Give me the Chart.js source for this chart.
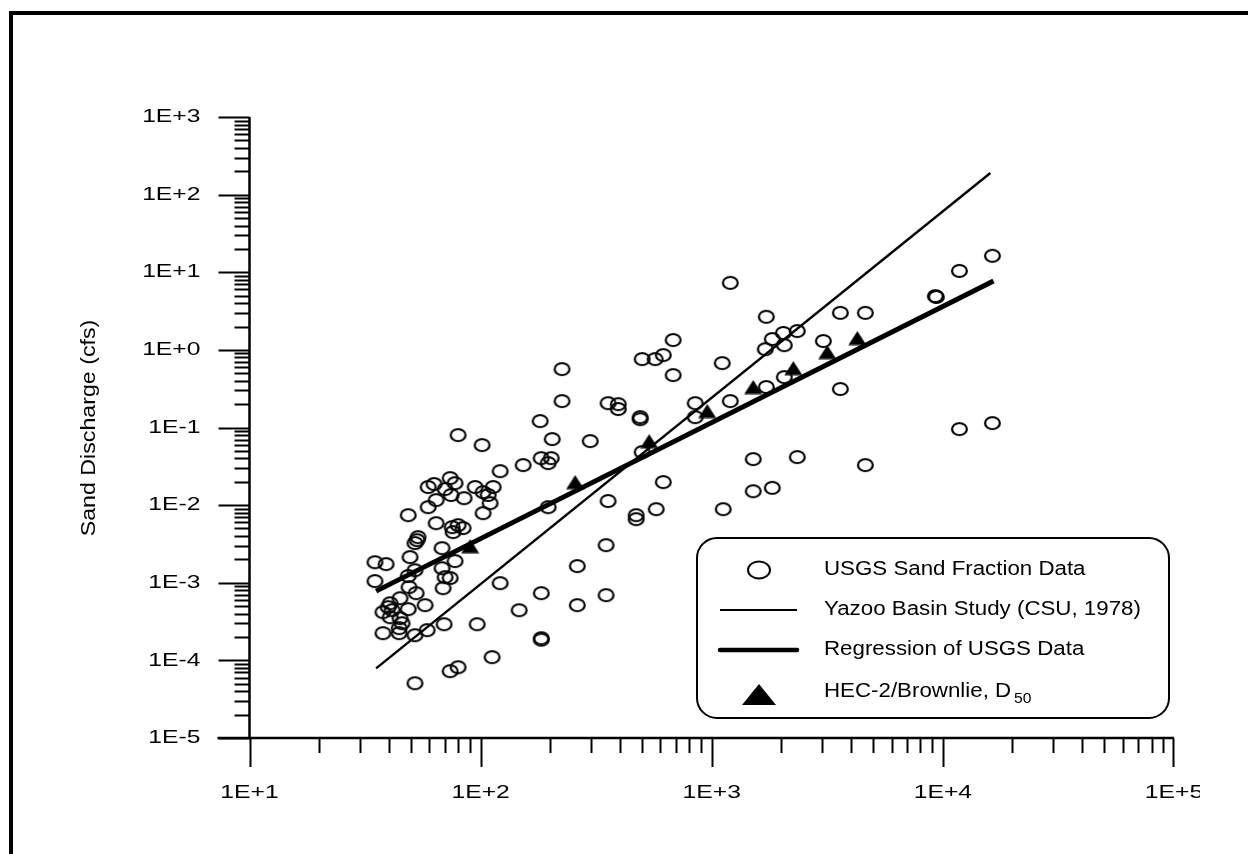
<!DOCTYPE html>
<html>
<head>
<meta charset="utf-8">
<title>Sand Discharge</title>
<script src="https://cdn.jsdelivr.net/npm/chart.js@4.4.1/dist/chart.umd.min.js"></script>
<style>
  html, body { margin: 0; padding: 0; background: #fff; }
  #wrap { width: 1248px; height: 854px; }
</style>
</head>
<body>
<div id="wrap"><canvas id="chart" width="1248" height="854"></canvas></div>
<script>
// USGS sand fraction samples: water discharge (x) vs sand discharge (y, cfs)
const usgsFlow = [79.9, 101.5, 121.5, 152.8, 181, 182.8, 202, 196, 225, 225, 204, 298,
    59.3, 62.9, 73.8, 77.5, 70.2, 74.5, 64.2, 59.3, 84.8, 94.7, 102.5, 113.3, 107.8, 109.9, 102.5,
    48.6, 64.2, 75.3, 79.9, 84.0, 76.0, 53.6, 53.1, 52.0, 68.1,
    34.9, 39.0, 49.5, 77.5, 34.9, 48.6, 52.0, 68.1, 70.2, 73.8, 68.8, 49.0, 52.6, 121.5,
    44.8, 40.6, 39.8, 41.4, 37.8, 48.6, 57.5, 44.8, 45.7, 44.4, 40.6, 37.8, 44.4, 52.0, 58.7, 69.5, 96.6, 146.8,
    112.1, 73.8, 79.9, 52.0,
    500, 569, 617, 681, 681, 356, 394, 394, 490, 490, 500, 617, 575, 356, 471, 471, 196, 349, 262, 183, 262, 349, 183, 183,
    848, 848, 1110, 1203, 1203, 1121, 1722, 1828, 2040, 2345, 1705, 2060, 3600, 4618, 3039, 9280, 9370, 11790, 16380,
    1722, 2060, 3600, 11790, 16380, 1512, 2345, 4618, 1512, 1828];
const usgsSand = [0.0798, 0.0593, 0.0274, 0.0328, 0.121, 0.0403, 0.0403, 0.0348, 0.566, 0.219, 0.0709, 0.0668,
    0.0171, 0.0187, 0.0223, 0.0192, 0.0161, 0.0135, 0.0116, 0.00942, 0.0123, 0.0171, 0.0147, 0.0171, 0.0135, 0.0106, 0.00788,
    0.00743, 0.00586, 0.0052, 0.00552, 0.00506, 0.00449, 0.00387, 0.00354, 0.00324, 0.00279,
    0.00184, 0.00174, 0.00214, 0.0019, 0.00105, 0.00122, 0.00145, 0.00154, 0.00118, 0.00115, 0.000852, 0.000878, 0.000734, 0.000988,
    0.000632, 0.000545, 0.000485, 0.000443, 0.000418, 0.000457, 0.000514, 0.00035, 0.000301, 0.00026, 0.00036, 0.000224, 0.000224, 0.000211, 0.000245, 0.000292, 0.000292, 0.000443,
    0.00011, 7.26e-5, 8.17e-5, 5.08e-5,
    0.761, 0.761, 0.857, 0.473, 1.34, 0.206, 0.2, 0.173, 0.136, 0.128, 0.0482, 0.0198, 0.00888, 0.0113, 0.00743, 0.0066, 0.00942, 0.00305, 0.00164, 0.000734, 0.000514, 0.000692, 0.000193, 0.000185,
    0.206, 0.136, 0.676, 7.3, 0.219, 0.00888, 2.67, 1.38, 1.65, 1.75, 1.02, 1.15, 3.0, 3.0, 1.30, 4.93, 4.8, 10.4, 16.3,
    0.332, 0.446, 0.313, 0.0953, 0.114, 0.0392, 0.0416, 0.0328, 0.0151, 0.0167];

// Yazoo basin relation and regression, end points
const yazooFlow = [35.3, 16050];
const yazooSand = [7.9e-5, 190];
const regFlow = [35.3, 16560];
const regSand = [7.8e-4, 7.7];

// HEC-2 / Brownlie computed points
const hecFlow = [90.1, 256.5, 536, 956, 1512, 2254, 3162, 4265];
const hecSand = [0.00296, 0.0198, 0.0668, 0.163, 0.332, 0.582, 0.937, 1.42];

const xTickValues = [1e1, 1e2, 1e3, 1e4, 1e5];
const xTickLabels = ['1E+1', '1E+2', '1E+3', '1E+4', '1E+5'];
const yTickValues = [1e-5, 1e-4, 1e-3, 1e-2, 1e-1, 1e0, 1e1, 1e2, 1e3];
const yTickLabels = ['1E-5', '1E-4', '1E-3', '1E-2', '1E-1', '1E+0', '1E+1', '1E+2', '1E+3'];

const yTitle = 'Sand Discharge (cfs)';
const legendLabels = ['USGS Sand Fraction Data', 'Yazoo Basin Study (CSU, 1978)', 'Regression of USGS Data', 'HEC-2/Brownlie, D'];

const FONT = '"Liberation Sans", Arial, sans-serif';

function pairs(xs, ys) {
    return xs.map((x, i) => ({ x: x, y: ys[i] }));
}

// open ellipse marker (the circles in the original are a bit wider than tall)
const ring = document.createElement('canvas');
ring.width = 19; ring.height = 16;
(function () {
    const c = ring.getContext('2d');
    c.strokeStyle = '#000';
    c.lineWidth = 2.2;
    c.beginPath();
    c.ellipse(9.5, 8, 7.4, 6, 0, 0, Math.PI * 2);
    c.stroke();
})();

const tri = document.createElement('canvas');
tri.width = 19; tri.height = 15;
(function () {
    const c = tri.getContext('2d');
    c.fillStyle = '#000';
    c.beginPath();
    c.moveTo(0.5, 14.5);
    c.lineTo(18.5, 14.5);
    c.lineTo(9.5, 0.5);
    c.closePath();
    c.fill();
})();

function wideText(ctx, txt, x, y, align, sx) {
    const w = ctx.measureText(txt).width * sx;
    let left = x;
    if (align === 'center') left = x - w / 2;
    else if (align === 'right') left = x - w;
    ctx.save();
    ctx.translate(left, y);
    ctx.scale(sx, 1);
    ctx.textAlign = 'left';
    ctx.textBaseline = 'middle';
    ctx.fillText(txt, 0, 0);
    ctx.restore();
    return left + w;
}

const decorations = {
    id: 'decorations',
    afterDatasetsDraw(chart) {
        const ctx = chart.ctx;
        const xs = chart.scales.x, ys = chart.scales.y;
        const left = xs.left, right = xs.right, top = ys.top, bottom = ys.bottom;
        ctx.save();
        ctx.fillStyle = '#000';
        ctx.strokeStyle = '#000';

        // page frame (left and top edges only)
        ctx.fillRect(9, 11, 4, 843);
        ctx.fillRect(9, 11, 1239, 4);

        // axis lines
        ctx.lineWidth = 2.5;
        ctx.beginPath();
        ctx.moveTo(left - 32, bottom);
        ctx.lineTo(right, bottom);
        ctx.moveTo(left, top);
        ctx.lineTo(left, bottom);
        ctx.stroke();

        // x ticks
        ctx.lineWidth = 2;
        ctx.beginPath();
        for (let d = 1; d < 5; d++) {
            for (let k = 1; k < 10; k++) {
                const px = Math.round(xs.getPixelForValue(k * Math.pow(10, d))) + 0.5;
                ctx.moveTo(px, bottom);
                ctx.lineTo(px, bottom + (k === 1 ? 29 : 15));
            }
        }
        const pxEnd = Math.round(xs.getPixelForValue(1e5)) - 0.5;
        ctx.moveTo(pxEnd, bottom);
        ctx.lineTo(pxEnd, bottom + 29);
        // y ticks
        for (let d = -5; d < 3; d++) {
            for (let k = 1; k < 10; k++) {
                const py = Math.round(ys.getPixelForValue(k * Math.pow(10, d))) + 0.5;
                ctx.moveTo(left, py);
                ctx.lineTo(left - (k === 1 ? 31 : 15), py);
            }
        }
        const pyTop = Math.round(ys.getPixelForValue(1e3)) + 0.5;
        ctx.moveTo(left, pyTop);
        ctx.lineTo(left - 31, pyTop);
        ctx.stroke();

        // tick labels
        ctx.font = '19px ' + FONT;
        yTickValues.forEach((v, i) => {
            wideText(ctx, yTickLabels[i], left - 49, ys.getPixelForValue(v), 'right', 1.3);
        });
        ctx.save();
        ctx.beginPath();
        ctx.rect(0, 0, 1200, 854);
        ctx.clip();
        xTickValues.forEach((v, i) => {
            wideText(ctx, xTickLabels[i], xs.getPixelForValue(v), 793, 'center', 1.3);
        });
        ctx.restore();

        // y title
        ctx.save();
        ctx.translate(89, 428);
        ctx.rotate(-Math.PI / 2);
        ctx.font = '20px ' + FONT;
        wideText(ctx, yTitle, 0, 0, 'center', 1.16);
        ctx.restore();

        // legend box
        const bx = 697, by = 538, bw = 472, bh = 180;
        ctx.beginPath();
        ctx.roundRect(bx, by, bw, bh, 20);
        ctx.fillStyle = '#fff';
        ctx.fill();
        ctx.lineWidth = 2;
        ctx.stroke();
        ctx.fillStyle = '#000';

        const rows = [570, 610, 650, 692];
        const sx = 759;
        ctx.lineWidth = 2;
        ctx.beginPath();
        ctx.ellipse(sx, rows[0], 11, 8.5, 0, 0, Math.PI * 2);
        ctx.stroke();
        ctx.beginPath();
        ctx.moveTo(720, rows[1]);
        ctx.lineTo(797, rows[1]);
        ctx.stroke();
        ctx.lineWidth = 4.5;
        ctx.lineCap = 'round';
        ctx.beginPath();
        ctx.moveTo(720, rows[2]);
        ctx.lineTo(797, rows[2]);
        ctx.stroke();
        ctx.beginPath();
        ctx.moveTo(sx - 17, rows[3] + 13);
        ctx.lineTo(sx + 17, rows[3] + 13);
        ctx.lineTo(sx, rows[3] - 8);
        ctx.closePath();
        ctx.fill();

        ctx.font = '20px ' + FONT;
        let end = 0;
        legendLabels.forEach((t, i) => {
            end = wideText(ctx, t, 824, rows[i] - 1, 'left', 1.115);
        });
        ctx.font = '14px ' + FONT;
        wideText(ctx, '50', end + 3, rows[3] + 7, 'left', 1.115);

        ctx.restore();
    }
};

const chart = new Chart(document.getElementById('chart'), {
    type: 'scatter',
    data: {
        datasets: [{
            label: 'HEC-2/Brownlie, D50',
            data: pairs(hecFlow, hecSand),
            pointStyle: tri,
            pointRadius: 8,
            order: 0
        }, {
            label: 'Regression of USGS Data',
            data: pairs(regFlow, regSand),
            showLine: true,
            borderColor: '#000',
            borderWidth: 5,
            pointRadius: 0,
            order: 1
        }, {
            label: 'Yazoo Basin Study (CSU, 1978)',
            data: pairs(yazooFlow, yazooSand),
            showLine: true,
            borderColor: '#000',
            borderWidth: 2.4,
            pointRadius: 0,
            order: 2
        }, {
            label: 'USGS Sand Fraction Data',
            data: pairs(usgsFlow, usgsSand),
            pointStyle: ring,
            pointRadius: 8,
            order: 3
        }]
    },
    options: {
        responsive: false,
        animation: false,
        devicePixelRatio: 1,
        layout: {
            padding: { left: 249.5, right: 74, top: 117, bottom: 116 }
        },
        plugins: {
            legend: { display: false },
            tooltip: { enabled: false }
        },
        scales: {
            x: { type: 'logarithmic', min: 10, max: 1e5, display: false },
            y: { type: 'logarithmic', min: 1e-5, max: 1e3, display: false }
        }
    },
    plugins: [decorations]
});
</script>
</body>
</html>
